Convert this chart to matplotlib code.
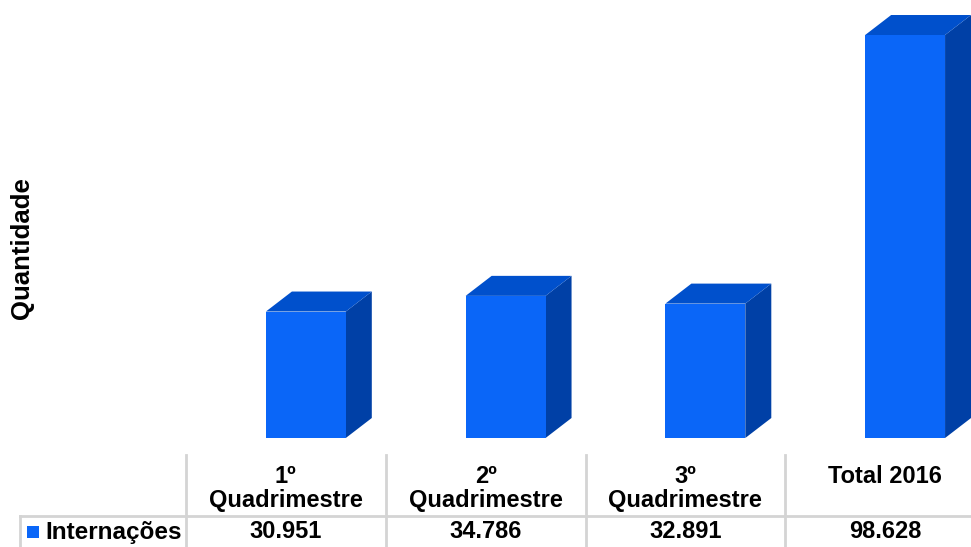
import matplotlib.pyplot as plt
from matplotlib.patches import Polygon, Rectangle

categorias = ['1º\nQuadrimestre', '2º\nQuadrimestre', '3º\nQuadrimestre', 'Total 2016']
rotulos = ['30.951', '34.786', '32.891', '98.628']
internacoes = [30951, 34786, 32891, 98628]
serie = 'Internações'

plt.rcParams['font.family'] = ['Liberation Sans', 'DejaVu Sans']

W, H = 971, 547
fig = plt.figure(figsize=(W / 100, H / 100), dpi=100)

# eixo dos bares: colunas de 199.75 px começando em x=186, base em y=438
col_w = 199.75
x0 = 186
base = 438
esc = 0.004086  # px por unidade
ax = fig.add_axes([x0 / W, (H - base) / H, 4 * col_w / W, base / H])
ax.set_xlim(0, 4)
ax.set_ylim(0, base / esc)
ax.axis('off')

frente = '#0a66f8'
topo = '#0050cc'
lado = '#0040a6'
dx = 26 / col_w
dy = 20 / esc
for i, v in enumerate(internacoes):
    l = i + 0.40
    r = i + 0.80
    ax.add_patch(Polygon([(r, 0), (r + dx, dy), (r + dx, v + dy), (r, v)],
                         closed=True, facecolor=lado, edgecolor='none', clip_on=False))
    ax.add_patch(Polygon([(l, v), (r, v), (r + dx, v + dy), (l + dx, v + dy)],
                         closed=True, facecolor=topo, edgecolor='none', clip_on=False))
    ax.add_patch(Rectangle((l, 0), r - l, v, facecolor=frente, edgecolor='none', clip_on=False))

# rótulo do eixo y
fig.text(22 / W, 1 - 248 / H, 'Quantidade', rotation=90, ha='center', va='center',
         fontsize=18.5, fontweight='bold')

# tabela de dados
cinza = '#d4d4d4'


def fx(px):
    return px / W


def fy(py):
    return 1 - py / H


for k in range(4):
    xl = x0 + k * col_w
    fig.add_artist(plt.Line2D([fx(xl), fx(xl)], [fy(455), fy(547)], color=cinza, lw=2))
fig.add_artist(plt.Line2D([fx(20), fx(20)], [fy(516), fy(547)], color=cinza, lw=2))
fig.add_artist(plt.Line2D([fx(20), fx(971)], [fy(516), fy(516)], color=cinza, lw=2))

for k, (c, r) in enumerate(zip(categorias, rotulos)):
    cx = x0 + (k + 0.5) * col_w
    fig.text(fx(cx), fy(465), c, ha='center', va='top', fontsize=17,
             fontweight='bold', linespacing=1.03)
    fig.text(fx(cx), fy(532), r, ha='center', va='center', fontsize=17, fontweight='bold')

fig.add_artist(Rectangle((fx(27), fy(538)), 12 / W, 12 / H, facecolor=frente,
                         edgecolor='none', transform=fig.transFigure))
fig.text(fx(45), fy(532), serie, ha='left', va='center', fontsize=17.5, fontweight='bold')

fig.savefig('out.png', dpi=100, facecolor='white')
